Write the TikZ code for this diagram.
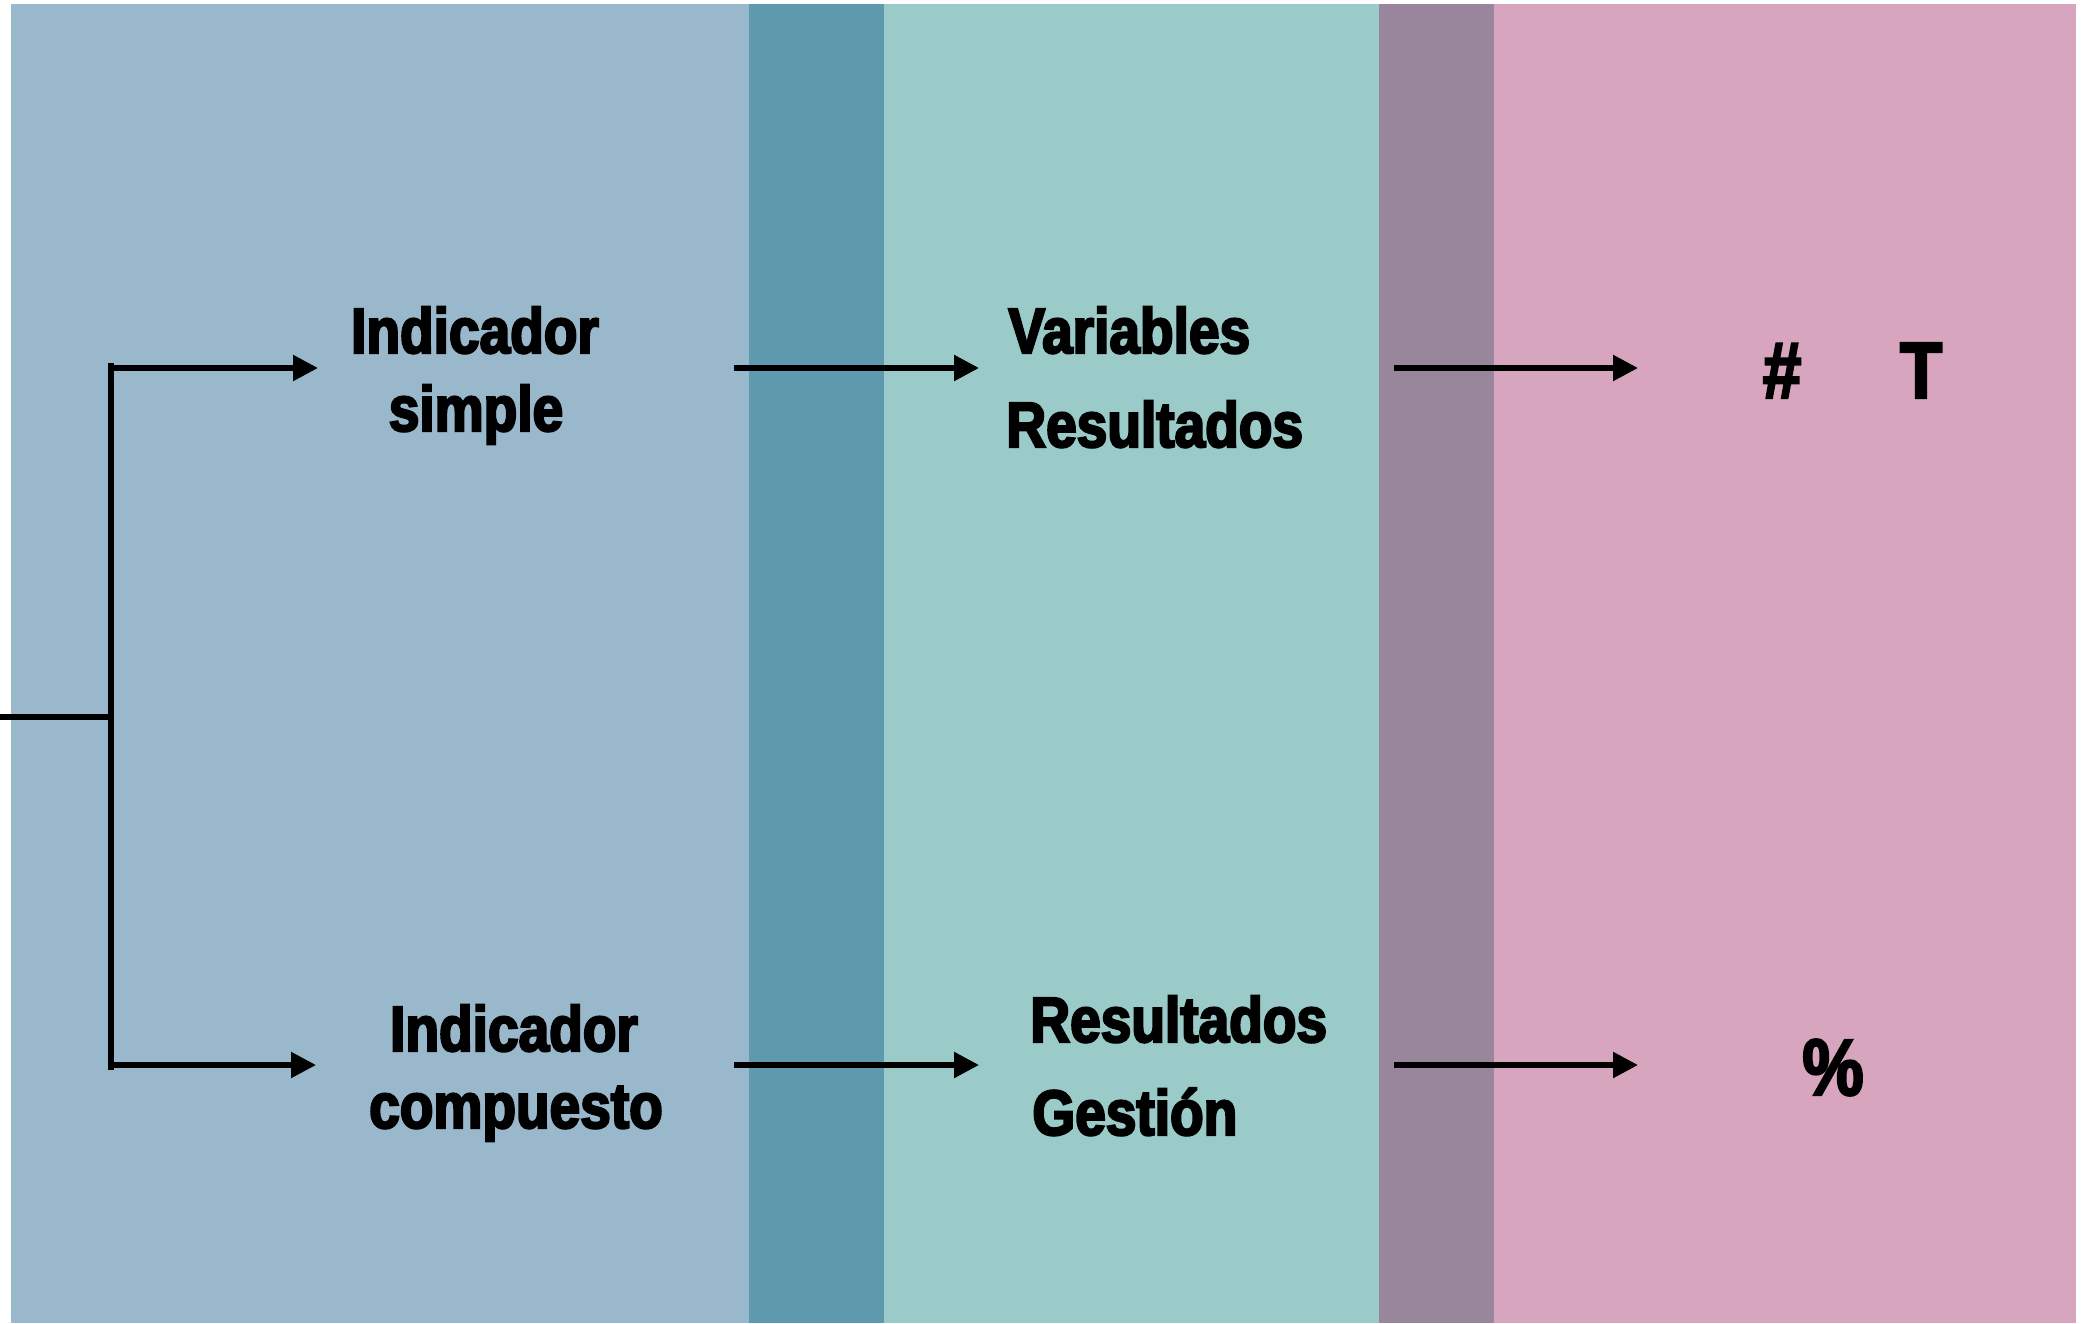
\documentclass[tikz,border=0pt]{standalone}
\usepackage{fontspec}
\usetikzlibrary{arrows.meta}
\newfontfamily\condfont{Liberation Sans}[FakeStretch=0.86,FakeBold=3.5]
\newfontfamily\symfont{Liberation Sans}[FakeStretch=0.86,FakeBold=3]
\definecolor{bandA}{HTML}{9AB8CC}
\definecolor{bandB}{HTML}{5E9AAD}
\definecolor{bandC}{HTML}{9ACBC9}
\definecolor{bandD}{HTML}{99859C}
\definecolor{bandE}{HTML}{D8A5BF}
\tikzset{
  lbl/.style={inner sep=0pt, font=\condfont\bfseries\fontsize{32}{36}\selectfont},
  sym/.style={inner sep=0pt, font=\symfont\bfseries\fontsize{40}{44}\selectfont},
  conn/.style={line width=2.7pt, draw=black},
  arr/.style={conn, -{Triangle[length=12.5pt,width=12.5pt]}}
}
\begin{document}
\begin{tikzpicture}[x=0.5pt,y=-0.5pt]
\useasboundingbox (0,0) rectangle (2082,1323);
% bands
\fill[bandA] (11,4) rectangle (749,1323);
\fill[bandB] (749,4) rectangle (884,1323);
\fill[bandC] (884,4) rectangle (1379,1323);
\fill[bandD] (1379,4) rectangle (1494,1323);
\fill[bandE] (1494,4) rectangle (2076,1323);
% coordinates
\coordinate (in) at (0,717);
\coordinate (stub) at (111,717);
\coordinate (vtop) at (111,363);
\coordinate (vbot) at (111,1070);
\coordinate (s1) at (111,368);
\coordinate (e1) at (318,368);
\coordinate (s2) at (111,1065);
\coordinate (e2) at (316,1065);
\coordinate (m1s) at (734,368);
\coordinate (m1e) at (979,368);
\coordinate (m2s) at (734,1065);
\coordinate (m2e) at (979,1065);
\coordinate (r1s) at (1394,368);
\coordinate (r1e) at (1638,368);
\coordinate (r2s) at (1394,1065);
\coordinate (r2e) at (1638,1065);
% texts
\node[lbl, anchor=base] (is1) at (475,353) {Indicador};
\node[lbl, anchor=base] (is2) at (476,431) {simple};
\node[lbl, anchor=base] (ic1) at (514,1051) {Indicador};
\node[lbl, anchor=base] (ic2) at (516,1128) {compuesto};
\node[lbl, anchor=base west] (vr1) at (1008,353) {Variables};
\node[lbl, anchor=base west] (vr2) at (1006,447) {Resultados};
\node[lbl, anchor=base west] (rg1) at (1030,1042) {Resultados};
\node[lbl, anchor=base west] (rg2) at (1032,1135) {Gestión};
\node[sym, anchor=base] (hash) at (1782,398) {\#};
\node[sym, anchor=base] (tee) at (1921,398) {T};
\node[sym, anchor=base] (pct) at (1833,1095) {\%};
% connectors
\draw[conn] (in) -- (stub);
\draw[conn] (vtop) -- (vbot);
\draw[arr] (s1) -- (e1);
\draw[arr] (s2) -- (e2);
\draw[arr] (m1s) -- (m1e);
\draw[arr] (m2s) -- (m2e);
\draw[arr] (r1s) -- (r1e);
\draw[arr] (r2s) -- (r2e);
\end{tikzpicture}
\end{document}
